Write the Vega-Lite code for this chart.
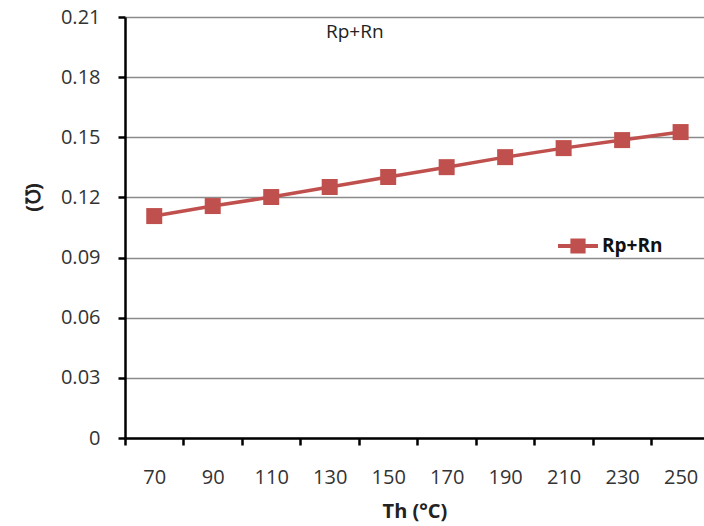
{
  "$schema": "https://vega.github.io/schema/vega-lite/v6.json",
  "autosize": "none",
  "width": 579,
  "height": 421,
  "padding": {"left": 125, "top": 17, "right": 0, "bottom": 88},
  "background": "white",
  "config": {
    "view": {"stroke": null},
    "font": "Open Sans"
  },
  "title": {
    "text": "Rp+Rn",
    "anchor": "start",
    "dx": 303,
    "offset": 0,
    "dy": 35,
    "fontSize": 19,
    "fontWeight": "normal",
    "font": "Open Sans",
    "color": "#222222"
  },
  "data": {
    "values": [
      {"Th": 70, "val": 0.1107, "series": "Rp+Rn"},
      {"Th": 90, "val": 0.1157, "series": "Rp+Rn"},
      {"Th": 110, "val": 0.1202, "series": "Rp+Rn"},
      {"Th": 130, "val": 0.1252, "series": "Rp+Rn"},
      {"Th": 150, "val": 0.1302, "series": "Rp+Rn"},
      {"Th": 170, "val": 0.1351, "series": "Rp+Rn"},
      {"Th": 190, "val": 0.1401, "series": "Rp+Rn"},
      {"Th": 210, "val": 0.1446, "series": "Rp+Rn"},
      {"Th": 230, "val": 0.1486, "series": "Rp+Rn"},
      {"Th": 250, "val": 0.1526, "series": "Rp+Rn"}
    ]
  },
  "encoding": {
    "x": {
      "field": "Th",
      "type": "quantitative",
      "scale": {"domain": [60, 258], "nice": false, "zero": false},
      "axis": {
        "values": [60, 80, 100, 120, 140, 160, 180, 200, 220, 240],
        "labelExpr": "datum.value + 10",
        "labelOffset": 29.25,
        "labelFlush": false,
        "labelOverlap": false,
        "grid": false,
        "domainColor": "#000000",
        "domainWidth": 2.5,
        "tickColor": "#000000",
        "tickWidth": 2.5,
        "tickSize": 7,
        "labelPadding": 22,
        "labelFontSize": 20,
        "labelColor": "#333333",
        "labelFont": "Open Sans",
        "title": "Th (°C)",
        "titleFontSize": 20,
        "titleFontWeight": "bold",
        "titleColor": "#222222",
        "titleFont": "Open Sans",
        "titlePadding": 14
      }
    },
    "y": {
      "field": "val",
      "type": "quantitative",
      "scale": {"domain": [0, 0.21], "nice": false, "zero": true},
      "axis": {
        "values": [0, 0.03, 0.06, 0.09, 0.12, 0.15, 0.18, 0.21],
        "format": ".2~f",
        "grid": true,
        "gridColor": "#8a8a8a",
        "gridWidth": 1.5,
        "domainColor": "#000000",
        "domainWidth": 2.5,
        "tickColor": "#000000",
        "tickWidth": 2.5,
        "tickSize": 7,
        "labelPadding": 18,
        "labelFontSize": 20,
        "labelColor": "#333333",
        "labelFont": "Open Sans",
        "title": "(℧)",
        "titleFontSize": 20,
        "titleFontWeight": "bold",
        "titleColor": "#222222",
        "titleFont": "Open Sans",
        "titleX": -92,
        "titleY": 180,
        "titleAngle": -90,
        "titleAlign": "center",
        "titleBaseline": "middle"
      }
    }
  },
  "layer": [
    {
      "mark": {"type": "line", "color": "#C0504D", "strokeWidth": 3.5}
    },
    {
      "mark": {"type": "point", "shape": "square", "filled": true, "size": 256, "opacity": 1},
      "encoding": {
        "color": {
          "field": "series",
          "type": "nominal",
          "scale": {"range": ["#C0504D"]},
          "legend": {
            "title": null,
            "orient": "none",
            "legendX": 433,
            "legendY": 209,
            "padding": 0,
            "symbolType": "M-1,-0.1H-0.38V-0.38H0.38V-0.1H1V0.1H0.38V0.38H-0.38V0.1H-1Z",
            "symbolSize": 1600,
            "symbolFillColor": "#C0504D",
            "symbolStrokeWidth": 0,
            "symbolOpacity": 1,
            "labelFontSize": 19,
            "labelFontWeight": "bold",
            "labelColor": "#111111",
            "labelFont": "Open Sans",
            "labelOffset": 4
          }
        }
      }
    }
  ]
}
